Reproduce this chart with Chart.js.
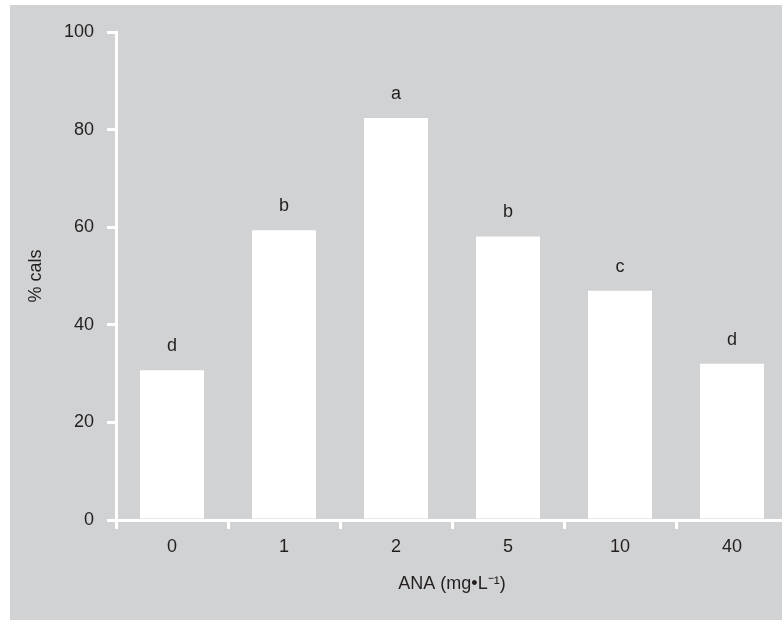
<!DOCTYPE html>
<html>
<head>
<meta charset="utf-8">
<script src="https://cdn.jsdelivr.net/npm/chart.js@4/dist/chart.umd.min.js"></script>
<style>
  html, body { margin: 0; padding: 0; background: #ffffff; overflow: hidden; width: 782px; height: 621px; }
  #wrap { position: absolute; left: 10px; top: 5px; width: 772px; height: 615px; background: #d1d2d4; overflow: hidden; }
  #c { position: absolute; left: 0; top: 0; }
</style>
</head>
<body>
<div id="wrap"><canvas id="c" width="780" height="615"></canvas></div>
<script>
const categories = ['0', '1', '2', '5', '10', '40'];
const callusPercent = [30.7, 59.4, 82.4, 58.1, 47.0, 32.0];
const groupLetters = ['d', 'b', 'a', 'b', 'c', 'd'];
const yTicks = [0, 20, 40, 60, 80, 100];

const TEXT = '#231f20';
const FONT = 'Liberation Sans, Arial, sans-serif';

const letterPlugin = {
  id: 'letters',
  afterDatasetsDraw(chart) {
    const ctx = chart.ctx;
    const meta = chart.getDatasetMeta(0);
    ctx.save();
    ctx.fillStyle = TEXT;
    ctx.font = '18px ' + FONT;
    ctx.textAlign = 'center';
    ctx.textBaseline = 'alphabetic';
    meta.data.forEach((bar, i) => {
      ctx.fillText(groupLetters[i], bar.x, bar.y - 19);
    });
    ctx.restore();
  }
};

new Chart(document.getElementById('c'), {
  type: 'bar',
  data: {
    labels: categories,
    datasets: [{
      data: callusPercent,
      backgroundColor: '#ffffff',
      borderWidth: 0,
      categoryPercentage: 0.8,
      barPercentage: 0.714
    }]
  },
  options: {
    responsive: false,
    animation: false,
    devicePixelRatio: 1,
    layout: { padding: { top: 27, left: 0, right: 2, bottom: 0 } },
    plugins: { legend: { display: false }, tooltip: { enabled: false } },
    scales: {
      x: {
        grid: { display: true, drawOnChartArea: false, drawTicks: true, tickLength: 9, color: '#ffffff', lineWidth: 3, offset: true },
        border: { display: true, color: '#ffffff', width: 3 },
        ticks: { color: TEXT, font: { family: FONT, size: 18 }, padding: 7, maxRotation: 0 },
        title: { display: true, text: 'ANA (mg•L⁻¹)', color: TEXT, font: { family: FONT, size: 18 }, padding: { top: 0, bottom: 25 } },
        afterFit(scale) { scale.height = 100; }
      },
      y: {
        min: 0, max: 100,
        afterBuildTicks(scale) { scale.ticks = yTicks.map(v => ({ value: v })); },
        grid: { display: true, drawOnChartArea: false, drawTicks: true, tickLength: 9, color: '#ffffff', lineWidth: 3 },
        border: { display: true, color: '#ffffff', width: 3 },
        ticks: { color: TEXT, font: { family: FONT, size: 18 }, padding: 13 },
        title: { display: true, text: '% cals', color: TEXT, font: { family: FONT, size: 18 }, padding: { top: 15, bottom: 0 } },
        afterFit(scale) { scale.width = 106; }
      }
    }
  },
  plugins: [letterPlugin]
});
</script>
</body>
</html>
